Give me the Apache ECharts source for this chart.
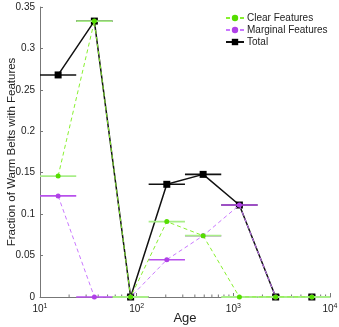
<!DOCTYPE html>
<html>
<head>
<meta charset="utf-8">
<script src="https://cdn.jsdelivr.net/npm/echarts@6/dist/echarts.min.js"></script>
<style>
  html, body { margin: 0; padding: 0; background: #fff; }
  #myCharts { width: 339px; height: 327px; }
</style>
</head>
<body>
<div id="myCharts"></div>
<script>
  // bin centres (age) and bin edges
  var ages = [15.4, 36.5, 86.6, 205, 487, 1155, 2740, 6490];
  var binLow = [10, 23.7, 56.2, 133, 316, 750, 1780, 4220];
  var binHigh = [23.7, 56.2, 133, 316, 750, 1780, 4220, 10000];

  var clearVals = [0.146, 0.333, 0, 0.091, 0.074, 0, 0, 0];
  var marginalVals = [0.122, 0, 0, 0.045, 0.074, 0.111, 0, 0];
  var totalVals = [0.268, 0.333, 0, 0.136, 0.148, 0.111, 0, 0];

  var yTicks = [0, 0.05, 0.1, 0.15, 0.2, 0.25, 0.3, 0.35];
  var xTickExp = { 10: '1', 100: '2', 1000: '3', 10000: '4' };
  var minorTicks = [20, 30, 40, 50, 60, 70, 80, 90, 200, 300, 400, 500, 600, 700, 800, 900,
    2000, 3000, 4000, 5000, 6000, 7000, 8000, 9000];

  var font = 'Liberation Sans, Arial, sans-serif';

  function pairs(vals) {
    return ages.map(function (a, i) { return [a, vals[i]]; });
  }
  function bars(vals) {
    return ages.map(function (a, i) { return [binLow[i], binHigh[i], vals[i]]; });
  }
  function barSeries(name, vals, color, width, z) {
    return {
      name: name,
      type: 'custom',
      z: z,
      silent: true,
      data: bars(vals),
      encode: { x: [0, 1], y: 2 },
      renderItem: function (params, api) {
        var y = api.value(2);
        var p1 = api.coord([api.value(0), y]);
        var p2 = api.coord([api.value(1), y]);
        return {
          type: 'line',
          shape: { x1: p1[0], y1: p1[1], x2: p2[0], y2: p2[1] },
          style: { stroke: color, lineWidth: width }
        };
      }
    };
  }

  var mychart = echarts.init(document.getElementById('myCharts'));
  var option = {
    animation: false,
    textStyle: { fontFamily: font },
    grid: { left: 40, right: 9, top: 7, bottom: 30, containLabel: false, outerBoundsMode: 'none' },
    legend: {
      orient: 'vertical',
      left: 220,
      top: 8,
      itemWidth: 18,
      itemHeight: 8,
      itemGap: 2,
      textStyle: { fontSize: 10, color: '#222', fontFamily: font, padding: [0, 0, 0, -2] },
      data: ['Clear Features', 'Marginal Features', 'Total']
    },
    xAxis: {
      type: 'log',
      logBase: 10,
      min: 10,
      max: 10000,
      name: 'Age',
      nameLocation: 'middle',
      nameGap: 15,
      nameMoveOverlap: false,
      nameTextStyle: { fontSize: 13, color: '#222' },
      axisLine: { lineStyle: { color: '#777', width: 1 } },
      axisTick: { inside: true, length: 4, lineStyle: { color: '#777' } },
      splitLine: { show: false },
      axisLabel: {
        color: '#222',
        margin: 6,
        formatter: function (v) {
          var e = xTickExp[Math.round(v)];
          return e ? '{b|10}{s|' + e + '}' : '';
        },
        rich: {
          b: { fontSize: 10, color: '#222', fontFamily: font },
          s: { fontSize: 7, color: '#222', fontFamily: font, verticalAlign: 'top', padding: [0, 0, 6, 0] }
        }
      }
    },
    yAxis: {
      type: 'value',
      min: 0,
      max: 0.35,
      interval: 0.05,
      name: 'Fraction of Warm Belts with Features',
      nameLocation: 'middle',
      nameGap: 22,
      nameMoveOverlap: false,
      nameTextStyle: { fontSize: 11.5, color: '#222' },
      axisLine: { show: true, lineStyle: { color: '#777', width: 1 } },
      axisTick: { show: true, inside: true, length: 3, lineStyle: { color: '#777' } },
      splitLine: { show: false },
      axisLabel: {
        color: '#222',
        fontSize: 10,
        margin: 5,
        formatter: function (v) {
          var t = yTicks.filter(function (k) { return Math.abs(k - v) < 1e-9; })[0];
          return t === undefined ? '' : String(+t.toFixed(2));
        }
      }
    },
    series: [
      {
        name: 'minorTicks',
        type: 'custom',
        silent: true,
        z: 1,
        data: minorTicks.map(function (v) { return [v, 0]; }),
        renderItem: function (params, api) {
          var p = api.coord([api.value(0), 0]);
          return {
            type: 'line',
            shape: { x1: p[0], y1: p[1], x2: p[0], y2: p[1] - 2.5 },
            style: { stroke: '#777', lineWidth: 1 }
          };
        }
      },
      barSeries('totalBars', totalVals, '#111', 1.6, 2),
      {
        name: 'Total',
        type: 'line',
        z: 3,
        data: pairs(totalVals),
        symbol: 'rect',
        symbolSize: 7,
        color: '#000',
        itemStyle: { color: '#000' },
        lineStyle: { color: '#111', width: 1.5 }
      },
      barSeries('marginalBars', marginalVals, '#b850ec', 1.6, 4),
      {
        name: 'Marginal Features',
        type: 'line',
        z: 5,
        data: pairs(marginalVals),
        symbol: 'circle',
        symbolSize: 5,
        color: '#b040e8',
        itemStyle: { color: '#b040e8' },
        lineStyle: { color: '#c978ff', width: 1, type: [4, 3] }
      },
      barSeries('clearBars', clearVals, '#a8ee88', 1.8, 6),
      {
        name: 'Clear Features',
        type: 'line',
        z: 7,
        data: pairs(clearVals),
        symbol: 'circle',
        symbolSize: 5,
        color: '#55dd00',
        itemStyle: { color: '#55dd00' },
        lineStyle: { color: '#88f030', width: 1, type: [4, 3] }
      }
    ]
  };
  mychart.setOption(option);
  window.onresize = mychart.resize;
</script>
</body>
</html>
